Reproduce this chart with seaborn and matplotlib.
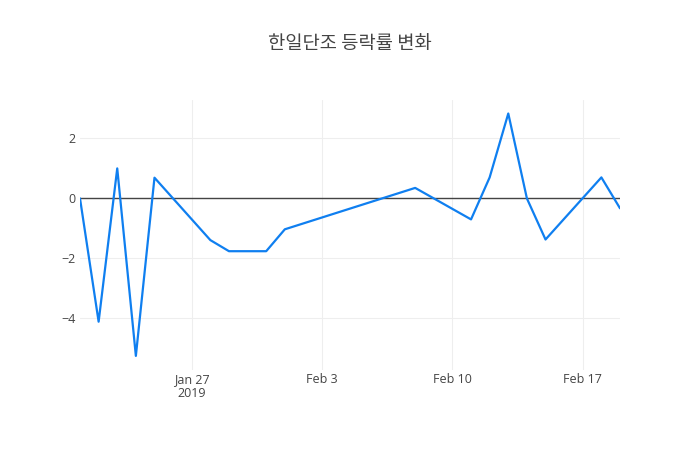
import matplotlib
matplotlib.use("Agg")
import matplotlib.pyplot as plt
import matplotlib.dates as mdates
import seaborn as sns
import pandas as pd

dates = ["2019-01-21", "2019-01-22", "2019-01-23", "2019-01-24", "2019-01-25",
         "2019-01-28", "2019-01-29", "2019-01-30", "2019-01-31", "2019-02-01",
         "2019-02-08", "2019-02-11", "2019-02-12", "2019-02-13", "2019-02-14",
         "2019-02-15", "2019-02-18", "2019-02-19"]
values = [0.0, -4.11, 1.0, -5.25, 0.69,
          -1.39, -1.76, -1.76, -1.76, -1.03,
          0.35, -0.70, 0.70, 2.83, 0.0,
          -1.37, 0.70, -0.33]
tick_dates = ["2019-01-27", "2019-02-03", "2019-02-10", "2019-02-17"]
tick_labels = ["Jan 27\n2019", "Feb 3", "Feb 10", "Feb 17"]
y_ticks = [-4, -2, 0, 2]
title = "한일단조 등락률 변화"

df = pd.DataFrame({"date": pd.to_datetime(dates), "value": values})

sns.set_style("white")
plt.rcParams["font.family"] = ["Open Sans", "Noto Sans CJK KR", "DejaVu Sans"]

fig = plt.figure(figsize=(7, 4.5), dpi=100)
ax = fig.add_axes([80 / 700, 80 / 450, 540 / 700, 270 / 450])

sns.lineplot(data=df, x="date", y="value", ax=ax, color="#0f7ff0", linewidth=1.6, zorder=3)

ax.set_xlim(df["date"].min(), df["date"].max())
ax.set_ylim(-5.72, 3.28)

ax.set_xticks(pd.to_datetime(tick_dates))
ax.set_xticklabels(tick_labels, linespacing=1.15)
ax.set_yticks(y_ticks)
ax.set_yticklabels([str(v).replace("-", "−") for v in y_ticks])

ax.grid(True, color="#eeeeee", linewidth=0.8, zorder=0)
ax.axhline(0, color="#444444", linewidth=1.0, zorder=2)
for s in ax.spines.values():
    s.set_visible(False)
ax.tick_params(axis="both", length=0, labelsize=9, colors="#444444")
ax.tick_params(axis="x", pad=2)
ax.tick_params(axis="y", pad=3)
ax.set_xlabel("")
ax.set_ylabel("")

fig.text(0.5, 1 - 44 / 450, title, ha="center", va="center", fontsize=13.5,
         color="#444444", family=["Noto Sans CJK KR", "DejaVu Sans"])

fig.savefig("out.png", dpi=100, facecolor="white")
